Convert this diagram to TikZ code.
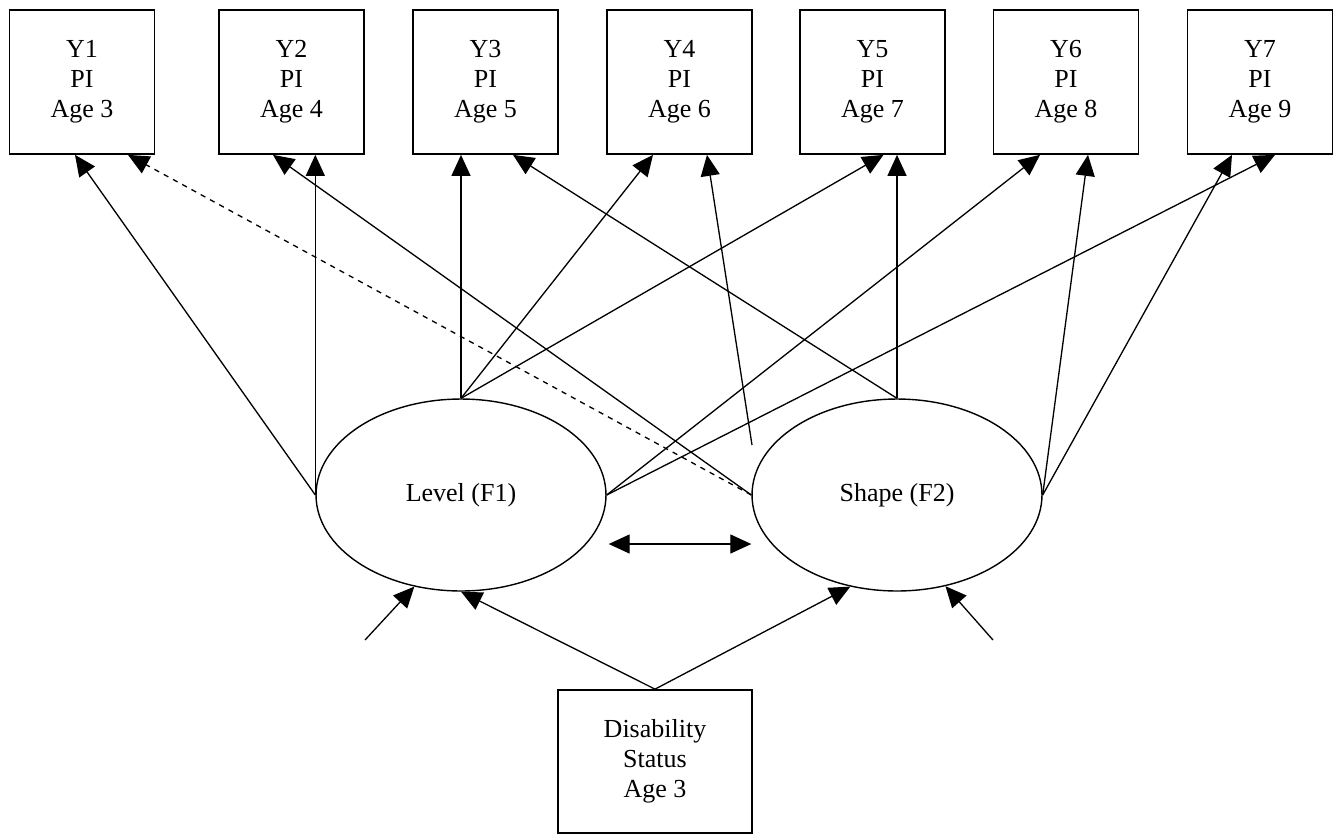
\documentclass[tikz,border=0pt]{standalone}
\usepackage{fontspec}
\setmainfont{Liberation Serif}
\usetikzlibrary{arrows.meta,calc,shapes.geometric}
\tikzset{
	obs/.style={draw,line width=1pt,minimum width=2.9cm,minimum height=2.88cm,
		align=center,inner sep=0pt},
	lat/.style={draw,ellipse,line width=0.8pt,minimum width=5.8cm,
		minimum height=3.84cm,inner sep=0pt},
	load/.style={->,line width=0.75pt}
}
\begin{document}
\begin{tikzpicture}[x=0.02cm,y=-0.02cm,>={Triangle[length=0.42cm,width=0.38cm]},
	every node/.style={font=\fontsize{14.8}{17}\selectfont}]
\useasboundingbox (0,0) rectangle (1342,836);
\foreach \x [count=\i, evaluate=\i as \a using int(\i+2)]
		in {82,291.5,485.5,679.5,872.5,1066,1260}{
	\node[obs] (y\i) at (\x,82) {Y\i\\PI\\Age \a};
}
\node[lat] (lev) at (461,495) {Level (F1)};
\node[lat] (shp) at (897,495) {Shape (F2)};
\node[obs,minimum width=3.88cm,minimum height=2.86cm] (dis) at (655,761.5)
	{Disability\\Status\\Age 3};

\coordinate (e4) at (752,445);
\coordinate (d1) at (365,640);
\coordinate (d2) at (993,640);

% Level (F1)
\draw[load] (lev.west) -- ($(y1.south)+(-7,0)$);
\draw[load] (lev.west) -- (lev.west |- y2.south);
\draw[load] (lev.north) -- (lev.north |- y3.south);
\draw[load] (lev.north) -- ($(y4.south)+(-26.5,0)$);
\draw[load] (lev.north) -- ($(y5.south)+(11,0)$);
\draw[load] (lev.east) -- ($(y6.south)+(-26,0)$);
\draw[load] (lev.east) -- ($(y7.south)+(15,0)$);
% Shape (F2)
\draw[load,dashed] (shp.west) -- ($(y1.south)+(46,0)$);
\draw[load] (shp.west) -- ($(y2.south)+(-18.5,0)$);
\draw[load] (shp.north) -- ($(y3.south)+(27.5,0)$);
\draw[load] (e4) -- ($(y4.south)+(27.5,0)$);
\draw[load] (shp.north) -- (shp.north |- y5.south);
\draw[load] (shp.east) -- ($(y6.south)+(22,0)$);
\draw[load] (shp.east) -- ($(y7.south)+(-28,0)$);

% covariate, residuals
\draw[load] (dis.north) -- (lev.south);
\draw[load] (dis.north) -- (shp.243);
\draw[load] (d1) -- (lev.243);
\draw[load] (d2) -- (shp.298);
\draw[<->,line width=0.75pt] ($(lev.east)+(2,49)$) -- ($(shp.west)+(0,49)$);

\end{tikzpicture}
\end{document}
